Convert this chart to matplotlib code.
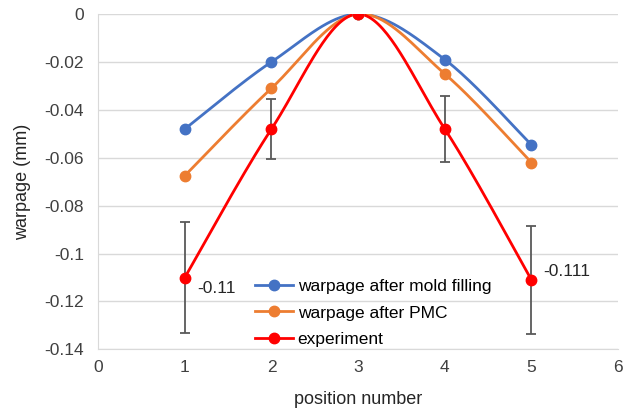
import matplotlib
matplotlib.use("Agg")
import matplotlib.pyplot as plt
import numpy as np

plt.rcParams["font.family"] = ["Liberation Sans", "DejaVu Sans"]

positions = [1, 2, 3, 4, 5]
mold_filling = [-0.048, -0.020, 0.0, -0.019, -0.0546]
after_pmc = [-0.0675, -0.031, 0.0, -0.025, -0.062]
experiment = [-0.110, -0.048, 0.0, -0.048, -0.111]
exp_err = [0.023, 0.0125, 0.0, 0.0137, 0.0225]
labelled = {1: "-0.11", 5: "-0.111"}
label_dy = {1: -0.0045, 5: 0.0035}


def smooth(x, y, n=40):
    # cubic Bezier through each point, controls from neighbour slopes
    x, y = np.asarray(x, float), np.asarray(y, float)
    px, py = [], []
    for i in range(len(x) - 1):
        x0, y0 = x[max(i - 1, 0)], y[max(i - 1, 0)]
        x3, y3 = x[min(i + 2, len(x) - 1)], y[min(i + 2, len(y) - 1)]
        c1 = (x[i] + (x[i + 1] - x0) / 6, y[i] + (y[i + 1] - y0) / 6)
        c2 = (x[i + 1] - (x3 - x[i]) / 6, y[i + 1] - (y3 - y[i]) / 6)
        t = np.linspace(0, 1, n)
        a, b, c, d = (1 - t) ** 3, 3 * t * (1 - t) ** 2, 3 * t ** 2 * (1 - t), t ** 3
        px.extend(a * x[i] + b * c1[0] + c * c2[0] + d * x[i + 1])
        py.extend(a * y[i] + b * c1[1] + c * c2[1] + d * y[i + 1])
    return px, py


fig = plt.figure(figsize=(6.25, 4.12), dpi=100)
ax = fig.add_axes([0.157, 0.152, 0.832, 0.814])

series = [
    (mold_filling, "#4472C4", "warpage after mold filling"),
    (after_pmc, "#ED7D31", "warpage after PMC"),
    (experiment, "#FF0000", "experiment"),
]
for vals, col, name in series:
    sx, sy = smooth(positions, vals)
    ax.plot(sx, sy, color=col, lw=2, zorder=3)
    ax.plot(positions, vals, "o", color=col, ms=7.5, zorder=4)
    ax.plot([], [], "-o", color=col, lw=2, ms=7.5, label=name)

ax.errorbar(positions, experiment, yerr=exp_err, fmt="none", ecolor="#595959",
            elinewidth=1.3, capsize=3.5, capthick=1.3, zorder=2)

for x, txt in labelled.items():
    ax.text(x + 0.14, experiment[x - 1] + label_dy[x], txt, fontsize=12.5,
            va="center", ha="left", color="#262626")

ax.set_xlim(0, 6)
ax.set_ylim(-0.14, 0)
ax.set_xticks(range(7))
ax.set_yticks(np.arange(-0.14, 0.001, 0.02))
ax.set_yticklabels(["-0.14", "-0.12", "-0.1", "-0.08", "-0.06", "-0.04", "-0.02", "0"])
ax.yaxis.grid(True, color="#D9D9D9", lw=1)
ax.set_axisbelow(True)
for s in ["top", "right"]:
    ax.spines[s].set_visible(False)
for s in ["left", "bottom"]:
    ax.spines[s].set_color("#D9D9D9")
ax.tick_params(length=0, labelsize=12.5, colors="#404040")
ax.tick_params(axis="y", pad=10)
ax.tick_params(axis="x", pad=8)
ax.set_xlabel("position number", fontsize=13, color="#262626", labelpad=11)
ax.set_ylabel("warpage (mm)", fontsize=13, color="#262626", labelpad=10)

ax.legend(loc="upper left", bbox_to_anchor=(0.302, 0.211), frameon=False, fontsize=12.5,
          handlelength=2.2, labelspacing=0.67, handletextpad=0.25, borderpad=0,
          borderaxespad=0)

fig.savefig("out.png", dpi=100)
